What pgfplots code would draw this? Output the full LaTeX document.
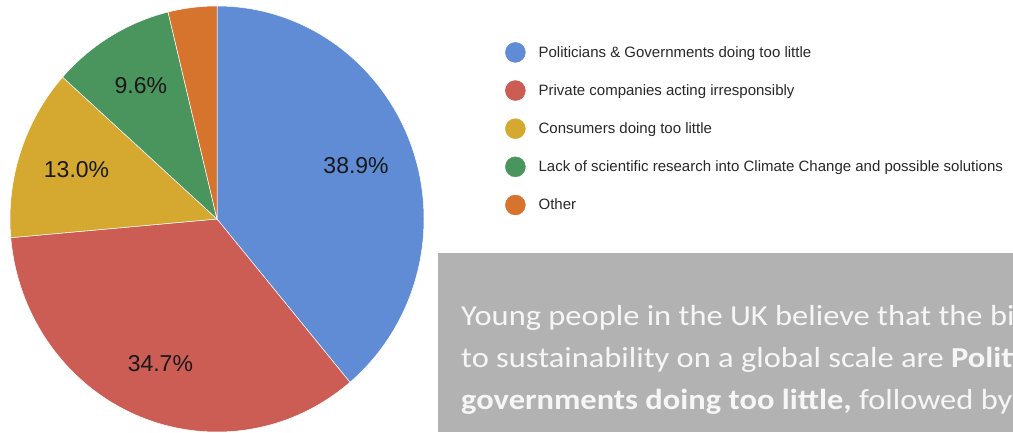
\documentclass[border=0pt]{standalone}
\usepackage{pgfplots}
\pgfplotsset{compat=1.18}
\usepackage{fontspec}
\setmainfont{Liberation Sans}
\newfontfamily\carlito{Carlito}
\definecolor{pblue}{RGB}{95,140,213}
\definecolor{pred}{RGB}{203,93,84}
\definecolor{pyellow}{RGB}{213,168,48}
\definecolor{pgreen}{RGB}{74,148,94}
\definecolor{porange}{RGB}{214,115,44}
\definecolor{boxgray}{RGB}{178,178,178}
\definecolor{boxtext}{RGB}{246,246,246}
\definecolor{legtext}{RGB}{40,40,40}
\definecolor{labtext}{RGB}{25,25,25}
\begin{document}
\begin{tikzpicture}
\clip (0,0) rectangle (1013pt,432pt);
\begin{axis}[
  x=1pt, y=1pt, xmin=0, xmax=1013, ymin=0, ymax=432,
  scale only axis, hide axis, clip=false,
  legend style={at={(0.4985,0.9028)}, anchor=north west, draw=none, fill=none,
    inner sep=0pt, row sep=17.75pt, column sep=13pt,
    font=\fontsize{15}{15}\selectfont, text=legtext, nodes={inner sep=0pt}},
  legend cell align=left,
  legend image code/.code={\fill[#1] (10pt,0pt) circle[radius=10pt];},
]
\xdef\cum{0}
\foreach \v/\c in {38.9/pblue, 34.7/pred, 13.0/pyellow, 9.6/pgreen, 3.8/porange}{
  \pgfmathsetmacro\a{90-3.6*\cum}
  \pgfmathsetmacro\b{90-3.6*(\cum+\v)}
  \edef\temp{\noexpand\fill[\c, draw=white, line width=0.5pt] (axis cs:217,213) -- ++(\a:207pt and 213pt) arc[start angle=\a, end angle=\b, x radius=207pt, y radius=213pt] -- cycle;}
  \temp
  \pgfmathsetmacro\cum{\cum+\v}
  \xdef\cum{\cum}
}
\xdef\cum{0}
\foreach \v in {38.9, 34.7, 13.0, 9.6, 3.8}{
  \pgfmathsetmacro\m{90-3.6*(\cum+\v/2)}
  \ifdim\v pt>5pt
    \edef\temp{\noexpand\path (axis cs:217,213) ++(\m:148pt and 156pt) node[font=\noexpand\fontsize{23}{23}\noexpand\selectfont, text=labtext] {\v\noexpand\%};}
    \temp
  \fi
  \pgfmathsetmacro\cum{\cum+\v}
  \xdef\cum{\cum}
}
\addlegendimage{pblue}
\addlegendentry{Politicians \& Governments doing too little}
\addlegendimage{pred}
\addlegendentry{Private companies acting irresponsibly}
\addlegendimage{pyellow}
\addlegendentry{Consumers doing too little}
\addlegendimage{pgreen}
\addlegendentry{Lack of scientific research into Climate Change and possible solutions}
\addlegendimage{porange}
\addlegendentry{Other}
\end{axis}
\fill[boxgray] (438pt,0pt) rectangle (1013pt,179pt);
\begin{scope}[every node/.style={anchor=base west, inner sep=0pt, text=boxtext, font=\carlito\fontsize{29}{29}\selectfont}]
\node at (461pt,107pt) {\scalebox{1.12}[1]{Young people in the UK believe that the biggest threats}};
\node at (461pt,65pt) {\scalebox{1.12}[1]{to sustainability on a global scale are \textbf{Politicians and}}};
\node at (461pt,23pt) {\scalebox{1.12}[1]{\textbf{governments doing too little,} followed by private companies}};
\end{scope}
\end{tikzpicture}
\end{document}
